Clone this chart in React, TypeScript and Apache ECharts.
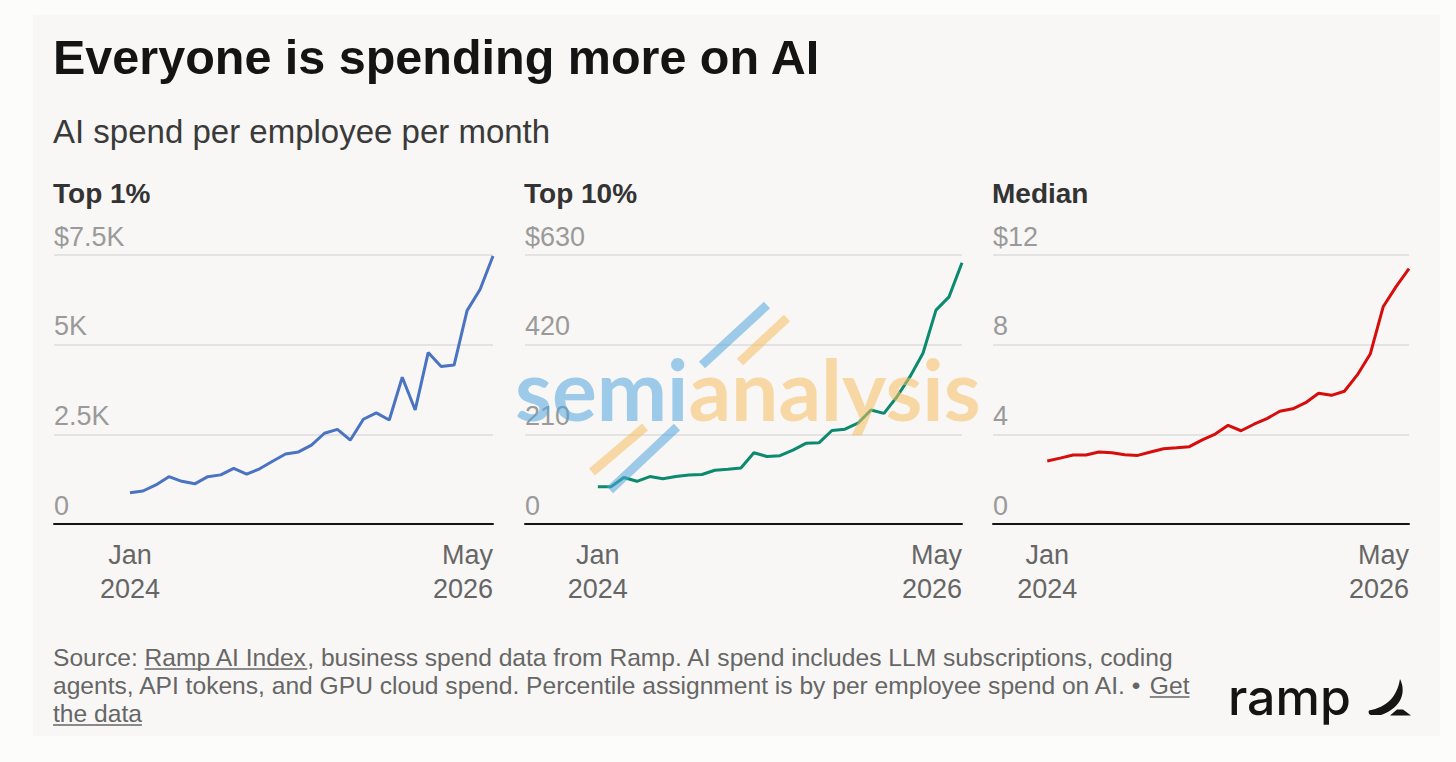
import React, { useEffect, useRef } from "react";
import * as echarts from "echarts";

// Monthly AI spend per employee, Jan 2024 → May 2026 (29 months)
const months = [
  "Jan 2024", "Feb 2024", "Mar 2024", "Apr 2024", "May 2024", "Jun 2024",
  "Jul 2024", "Aug 2024", "Sep 2024", "Oct 2024", "Nov 2024", "Dec 2024",
  "Jan 2025", "Feb 2025", "Mar 2025", "Apr 2025", "May 2025", "Jun 2025",
  "Jul 2025", "Aug 2025", "Sep 2025", "Oct 2025", "Nov 2025", "Dec 2025",
  "Jan 2026", "Feb 2026", "Mar 2026", "Apr 2026", "May 2026",
];

const top1Spend = [
  870, 920, 1090, 1320, 1190, 1120, 1320, 1370, 1550, 1390, 1540, 1750,
  1950, 2010, 2200, 2530, 2640, 2340, 2920, 3100, 2900, 4090, 3180, 4780,
  4390, 4430, 5950, 6540, 7470,
];

const top10Spend = [
  87, 87, 109, 100, 111, 106, 111, 115, 116, 126, 128, 131,
  167, 158, 160, 173, 189, 190, 219, 222, 236, 267, 259, 298,
  345, 400, 501, 532, 612,
];

const medianSpend = [
  2.81, 2.94, 3.08, 3.08, 3.21, 3.18, 3.09, 3.06, 3.21, 3.36, 3.4, 3.45,
  3.75, 4.01, 4.4, 4.16, 4.45, 4.7, 5.03, 5.14, 5.41, 5.83, 5.74, 5.92,
  6.65, 7.58, 9.69, 10.59, 11.39,
];

const xEndLabels = ["Jan\n2024", "May\n2026"];
const top1Ticks = ["0", "2.5K", "5K", "$7.5K"];
const top10Ticks = ["0", "210", "420", "$630"];
const medianTicks = ["0", "4", "8", "$12"];
const panelTitles = ["Top 1%", "Top 10%", "Median"];

const TITLE = "Everyone is spending more on AI";
const SUBTITLE = "AI spend per employee per month";

const footerLines = [
  [
    { text: "Source: ", link: false },
    { text: "Ramp AI Index", link: true },
    { text: ", business spend data from Ramp. AI spend includes LLM subscriptions, coding", link: false },
  ],
  [
    { text: "agents, API tokens, and GPU cloud spend. Percentile assignment is by per employee spend on AI. \u2022 ", link: false },
    { text: "Get", link: true },
  ],
  [{ text: "the data", link: true }],
];

const SANS = '"Liberation Sans", Arial, Helvetica, sans-serif';

// Ramp wordmark glyph
const RAMP_MARK =
  "M33 2 C39 14 36 30 14 38 L4 38 C2 38 1 35 2 33.5 C20 30 30 20 33 2 Z " +
  "M23 38.5 L30 32.5 L36 32.5 L44 38.5 Z";
echarts.graphic.registerShape("rampMark", echarts.graphic.extendPath(RAMP_MARK, {}) as any);

const panels = [
  { title: panelTitles[0], values: top1Spend, ticks: top1Ticks, step: 2500, color: "#4a73c2", left: 54, right: 493, xMin: -5.86 },
  { title: panelTitles[1], values: top10Spend, ticks: top10Ticks, step: 210, color: "#0b8a6f", left: 525, right: 962, xMin: -5.6 },
  { title: panelTitles[2], values: medianSpend, ticks: medianTicks, step: 4, color: "#d60d0d", left: 993, right: 1409, xMin: -4.2 },
];

const GRID_TOP = 255;
const GRID_BOTTOM = 524;

let measureCtx: CanvasRenderingContext2D | null = null;
function textWidth(text: string, size: number, weight = "normal", family = SANS) {
  if (!measureCtx) measureCtx = document.createElement("canvas").getContext("2d");
  measureCtx!.font = `${weight} ${size}px ${family}`;
  return measureCtx!.measureText(text).width;
}

function buildOption() {
  const lastIdx = months.length - 1;

  const grids = panels.map((p) => ({
    left: p.left,
    width: p.right - p.left,
    top: GRID_TOP,
    height: GRID_BOTTOM - GRID_TOP,
  }));

  const xAxes = panels.map((p, i) => ({
    type: "value",
    gridIndex: i,
    min: p.xMin,
    max: lastIdx,
    axisLine: { show: true, onZero: false, lineStyle: { color: "#151515", width: 2 } },
    axisTick: { show: false },
    splitLine: { show: false },
    axisLabel: {
      customValues: [0, lastIdx],
      formatter: (v: number) => (v === 0 ? xEndLabels[0] : xEndLabels[1]),
      color: "#666666",
      fontSize: 27,
      lineHeight: 34,
      fontFamily: SANS,
      margin: 14,
      alignMinLabel: "center",
      alignMaxLabel: "right",
      hideOverlap: false,
    },
  }));

  const yAxes = panels.map((p, i) => ({
    type: "value",
    gridIndex: i,
    min: 0,
    max: p.step * (p.ticks.length - 1),
    interval: p.step,
    axisLine: { show: false },
    axisTick: { show: false },
    splitLine: { lineStyle: { color: "#dcdcdc", width: 1.5 } },
    axisLabel: {
      inside: true,
      align: "left",
      verticalAlign: "bottom",
      margin: 0,
      padding: [0, 0, 5, 0],
      color: "#9a9a9a",
      fontSize: 27,
      fontFamily: SANS,
      formatter: (v: number) => p.ticks[Math.round(v / p.step)] ?? "",
    },
  }));

  const series = panels.map((p, i) => ({
    type: "line",
    name: p.title,
    xAxisIndex: i,
    yAxisIndex: i,
    data: p.values.map((v, k) => [k, v]),
    showSymbol: false,
    symbol: "none",
    lineStyle: { color: p.color, width: 3 },
    itemStyle: { color: p.color },
    z: 3,
  }));

  const graphics: any[] = [];
  const txt = (text: string, x: number, y: number, size: number, fill: string, weight: any = "normal", family = SANS, extra: any = {}) => ({
    type: "text",
    x,
    y,
    z: 10,
    style: { text, fontSize: size, fontWeight: weight, fontFamily: family, fill, align: "left", verticalAlign: "middle", ...extra },
  });

  graphics.push(txt(TITLE, 53, 57, 48.5, "#141414", "bold"));
  graphics.push(txt(SUBTITLE, 53, 131, 33, "#3a3a3a"));
  panels.forEach((p) => graphics.push(txt(p.title, p.left - 1, 193, 28, "#333333", "bold")));

  // Footer with underlined links
  const FOOT = 24.6;
  footerLines.forEach((segs, li) => {
    const y = 657 + li * 28;
    let x = 53;
    segs.forEach((s) => {
      const w = textWidth(s.text, FOOT);
      graphics.push(txt(s.text, x, y, FOOT, "#666666"));
      if (s.link) {
        graphics.push({
          type: "line",
          z: 10,
          shape: { x1: x, y1: y + 12, x2: x + w, y2: y + 12 },
          style: { stroke: "#666666", lineWidth: 1.5 },
        });
      }
      x += w;
    });
  });

  // Ramp logo
  graphics.push(txt("ramp", 1228, 697, 50, "#141414", 500, "Inter"));
  graphics.push({ type: "rampMark", x: 1367, y: 677, z: 10, style: { fill: "#161616" } });

  // semianalysis watermark
  const WM = 84;
  const wmFamily = "Lato";
  const blue = "rgba(80,165,220,0.55)";
  const orange = "rgba(245,191,96,0.55)";
  const bar = (x1: number, y1: number, x2: number, y2: number, stroke: string) => ({
    type: "line",
    z: 20,
    shape: { x1, y1, x2, y2 },
    style: { stroke, lineWidth: 9, lineCap: "butt" },
  });
  graphics.push(bar(702, 365, 767, 305, blue));
  graphics.push(bar(740, 362, 787, 318, orange));
  graphics.push(bar(592, 472, 645, 427, orange));
  graphics.push(bar(610, 490, 677, 427, blue));
  const semiW = textWidth("semi", WM, "bold", wmFamily);
  graphics.push({ ...txt("semi", 515, 388, WM, blue, "bold", wmFamily), z: 20 });
  graphics.push({ ...txt("analysis", 515 + semiW, 388, WM, orange, "bold", wmFamily), z: 20 });

  return {
    animation: false,
    backgroundColor: "transparent",
    grid: grids,
    xAxis: xAxes,
    yAxis: yAxes,
    series,
    graphic: { elements: graphics },
  };
}

export default function App() {
  const ref = useRef<HTMLDivElement>(null);
  useEffect(() => {
    const chart = echarts.init(ref.current!, null, { renderer: "svg" });
    chart.setOption(buildOption() as any);
    return () => chart.dispose();
  }, []);
  return (
    <div style={{ position: "fixed", left: 0, top: 0, width: 1456, height: 762, background: "#fcfcfb", overflow: "hidden" }}>
      <div style={{ position: "absolute", left: 33, top: 15, width: 1407, height: 721, background: "#f8f7f5" }} />
      <div ref={ref} style={{ position: "absolute", left: 0, top: 0, width: 1456, height: 762 }} />
    </div>
  );
}
